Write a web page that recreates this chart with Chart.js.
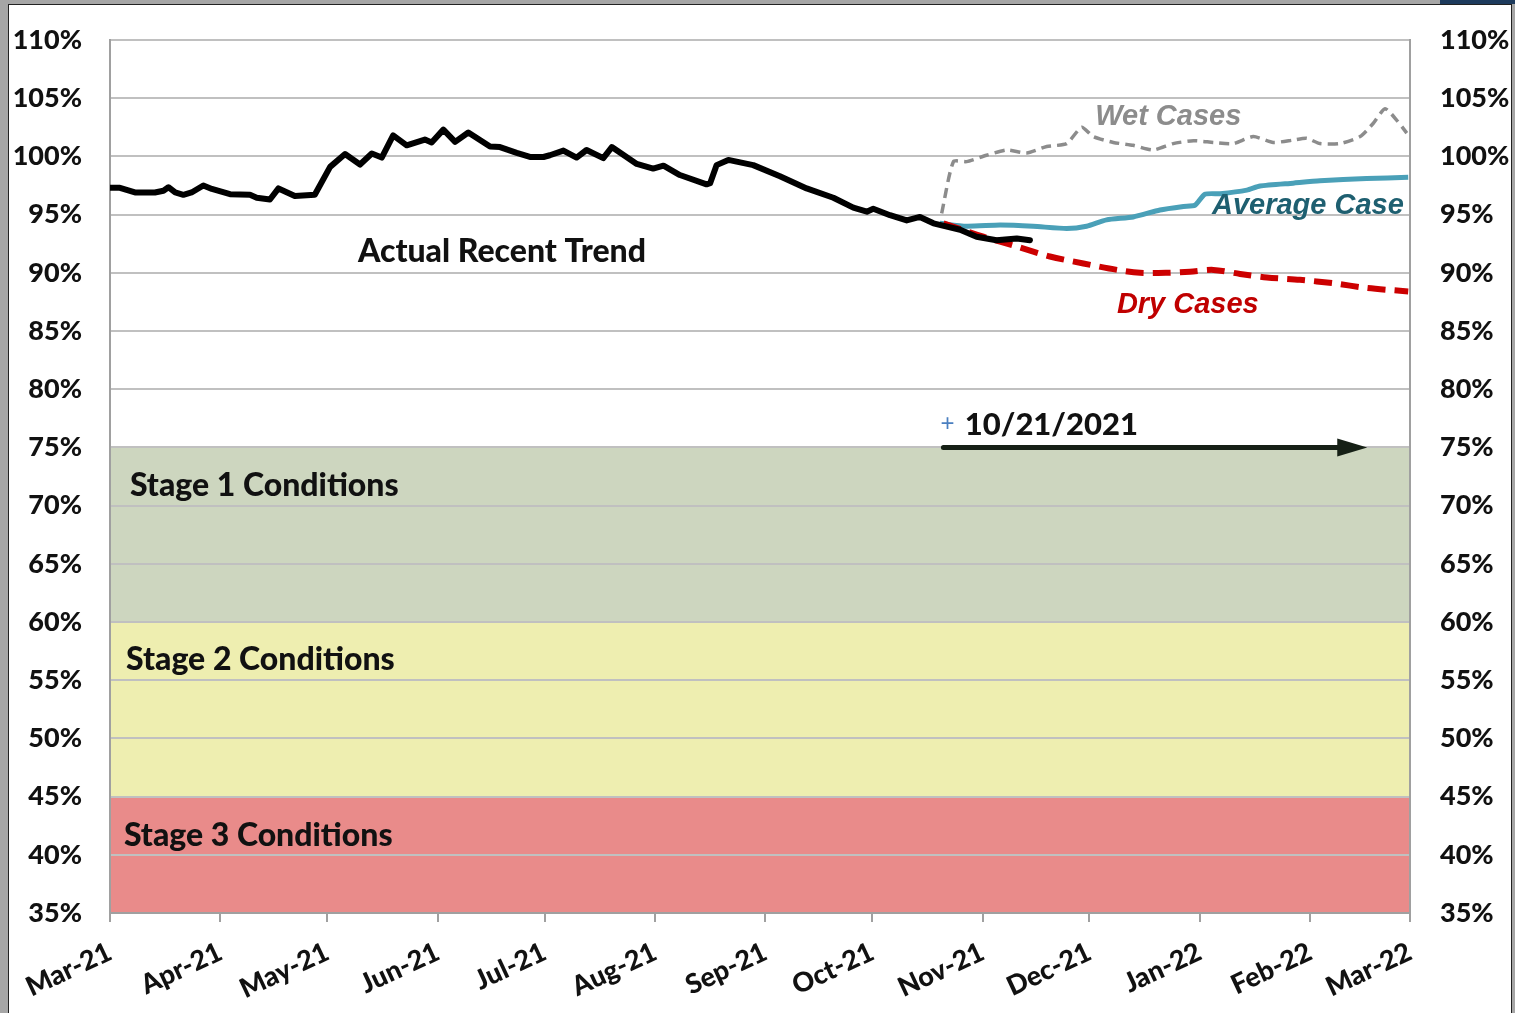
<!DOCTYPE html>
<html>
<head>
<meta charset="utf-8">
<script src="https://cdn.jsdelivr.net/npm/chart.js@4.4.0/dist/chart.umd.min.js"></script>
<style>
  html, body { margin: 0; padding: 0; background: #a6a6a6; overflow: hidden; }
  #frame { position: absolute; left: 8px; top: 4px; width: 1502px; height: 1030px; background: #fff; border: 1px solid #222; }
  #topStrip { position: absolute; left: 1440px; top: 0; width: 75px; height: 4px; background: #1d3a5c; }
  #wrap { position: absolute; left: 0; top: 0; width: 1515px; height: 1013px; }
</style>
</head>
<body>
<div id="frame"></div>
<div id="topStrip"></div>
<div id="wrap"><canvas id="chart" width="1515" height="1013"></canvas></div>
<script>
// x values are days since 1 Mar 2021
const monthDays = [0, 31, 61, 92, 122, 153, 184, 214, 245, 275, 306, 337, 365];
const monthLabels = ["Mar-21", "Apr-21", "May-21", "Jun-21", "Jul-21", "Aug-21", "Sep-21",
  "Oct-21", "Nov-21", "Dec-21", "Jan-22", "Feb-22", "Mar-22"];

// actual recent trend
const actualDays = [0, 2.8, 7, 12.6, 15, 16.4, 18.3, 20.6, 22.9, 26.2, 28.6, 33.7, 39.3, 41.2, 44.9,
  47.3, 51.9, 57.5, 61.8, 66, 70.2, 73.5, 76.3, 79.5, 83.3, 88.4, 90.3, 93.6, 96.9, 100.6, 106.7,
  109.5, 114.2, 117.9, 121.7, 123.5, 127.3, 131, 133.8, 138.5, 140.9, 147.9, 152.5, 155.4, 160,
  167.5, 168.5, 170.3, 173.6, 180.6, 188.1, 195.6, 203.1, 208.7, 212.5, 214.3, 219, 223.7, 227.4,
  231.2, 238.7, 243.3, 248.9, 254.6, 258.3];
const actualValues = [97.3, 97.3, 96.9, 96.9, 97.05, 97.35, 96.9, 96.7, 96.9, 97.5, 97.2, 96.75, 96.7,
  96.45, 96.3, 97.25, 96.6, 96.7, 99.1, 100.2, 99.3, 100.25, 99.9, 101.8, 100.95, 101.45, 101.2,
  102.3, 101.25, 102.05, 100.85, 100.8, 100.3, 99.95, 99.95, 100.1, 100.5, 99.9, 100.55, 99.85,
  100.8, 99.35, 98.95, 99.2, 98.4, 97.6, 97.7, 99.25, 99.7, 99.25, 98.3, 97.25, 96.45, 95.6, 95.25,
  95.5, 94.95, 94.5, 94.8, 94.25, 93.7, 93.1, 92.8, 92.95, 92.8];

// wet cases projection
const wetDays = [233.5, 236.8, 240.5, 246.1, 251.8, 257.4, 263, 268.6, 272.8, 276.1, 281.7, 287.3,
  292.9, 298.5, 304.2, 309.8, 315.4, 321, 326.6, 332.2, 336, 339.7, 345.3, 351, 354.7, 358, 361.3, 364.1];
const wetValues = [95.1, 99.55, 99.55, 100.1, 100.55, 100.3, 100.85, 101.1, 102.5, 101.7, 101.2,
  100.95, 100.55, 101.1, 101.35, 101.2, 101.1, 101.7, 101.2, 101.4, 101.55, 101.1, 101.1, 101.7,
  102.85, 104.1, 103.1, 102.0];

// average case projection
const avgDays = [233, 240.5, 249.9, 259.2, 268.6, 274.2, 279.8, 287.3, 294.8, 301.4, 304.6, 307.4,
  311.7, 319.2, 322.9, 332.2, 339.7, 352.8, 364.5];
const avgValues = [94.25, 94.0, 94.1, 94.0, 93.8, 94.0, 94.55, 94.8, 95.4, 95.7, 95.8, 96.75, 96.8,
  97.1, 97.45, 97.7, 97.9, 98.1, 98.2];

// dry cases projection
const dryDays = [234, 245.2, 254.6, 263.9, 273.3, 282.7, 289.2, 296.7, 303.2, 309.8, 317.3, 324.8,
  334.1, 343.5, 352.8, 364.5];
const dryValues = [94.25, 93.1, 92.25, 91.4, 90.8, 90.25, 90.0, 90.0, 90.1, 90.25, 89.9, 89.6, 89.4,
  89.1, 88.7, 88.4];

// drought stage bands
const bandNames = ["Stage 1 Conditions", "Stage 2 Conditions", "Stage 3 Conditions"];
const bandHighs = [75, 60, 45];
const bandLows = [60, 45, 35];
const bandColors = ["#cdd6bf", "#eeeeb0", "#e98b8a"];

// 10/21/2021 marker arrow
const arrowFrom = 234;
const arrowTo = 353;
const arrowLevel = 75;

function pts(xs, ys) {
  return xs.map((x, i) => ({ x: x, y: ys[i] }));
}

const BASE = "Lato, 'DejaVu Sans', sans-serif";
const ARIAL = "'Liberation Sans', Arial, sans-serif";

// text labels drawn on the plot (positions in data units)
const labels = [
  { text: "Actual Recent Trend", x: 69.6, y: 91.8, font: "900 32px " + BASE, color: "#111" },
  { text: bandNames[0], x: 5.6, y: 71.7, font: "900 32px " + BASE, color: "#111" },
  { text: bandNames[1], x: 4.5, y: 56.8, font: "900 32px " + BASE, color: "#111" },
  { text: bandNames[2], x: 3.9, y: 41.6, font: "900 32px " + BASE, color: "#111" },
  { text: "Wet Cases", x: 276.6, y: 103.4, font: "italic bold 29px " + ARIAL, color: "#8c8c8c" },
  { text: "Average Case", x: 309.4, y: 95.7, font: "italic bold 29px " + ARIAL, color: "#1e5f70" },
  { text: "Dry Cases", x: 282.7, y: 87.2, font: "italic bold 29px " + ARIAL, color: "#c00000" },
  { text: "10/21/2021", x: 240, y: 76.9, font: "900 31px " + BASE, color: "#111" },
  { text: "+", x: 233.2, y: 77.0, font: "24px " + ARIAL, color: "#4a7fc0" }
];

const bandsPlugin = {
  id: "bands",
  beforeDraw(chart) {
    const { ctx, chartArea, scales } = chart;
    ctx.save();
    bandHighs.forEach((hi, i) => {
      const top = scales.y.getPixelForValue(hi);
      const bottom = scales.y.getPixelForValue(bandLows[i]);
      ctx.fillStyle = bandColors[i];
      ctx.fillRect(chartArea.left, top, chartArea.right - chartArea.left, bottom - top);
    });
    ctx.restore();
  }
};

const notesPlugin = {
  id: "notes",
  afterDatasetsDraw(chart) {
    const { ctx, scales } = chart;
    ctx.save();
    // arrow
    const x0 = scales.x.getPixelForValue(arrowFrom);
    const x1 = scales.x.getPixelForValue(arrowTo);
    const yA = scales.y.getPixelForValue(arrowLevel);
    ctx.strokeStyle = "#162016";
    ctx.fillStyle = "#162016";
    ctx.lineWidth = 5;
    ctx.lineCap = "round";
    ctx.beginPath();
    ctx.moveTo(x0, yA);
    ctx.lineTo(x1 - 20, yA);
    ctx.stroke();
    ctx.beginPath();
    ctx.moveTo(x1, yA);
    ctx.lineTo(x1 - 30, yA - 9);
    ctx.lineTo(x1 - 30, yA + 9);
    ctx.closePath();
    ctx.fill();
    // text
    ctx.textAlign = "left";
    ctx.textBaseline = "middle";
    labels.forEach((l) => {
      ctx.font = l.font;
      ctx.fillStyle = l.color;
      ctx.fillText(l.text, scales.x.getPixelForValue(l.x), scales.y.getPixelForValue(l.y));
    });
    ctx.restore();
  }
};

// small lineHeight keeps the label padding from pushing the plot top down
const tickFont = { family: BASE, size: 27, weight: "900", lineHeight: 0.6 };

new Chart(document.getElementById("chart"), {
  type: "line",
  data: {
    datasets: [
      {
        label: "Actual Recent Trend",
        data: pts(actualDays, actualValues),
        borderColor: "#000",
        borderWidth: 6,
        pointRadius: 0,
        tension: 0,
        borderJoinStyle: "round",
        borderCapStyle: "round"
      },
      {
        label: "Dry Cases",
        data: pts(dryDays, dryValues),
        borderColor: "#cc0000",
        borderWidth: 6,
        borderDash: [18, 9],
        pointRadius: 0,
        tension: 0.3
      },
      {
        label: "Average Case",
        data: pts(avgDays, avgValues),
        borderColor: "#4aa0b8",
        borderWidth: 5,
        pointRadius: 0,
        tension: 0.2
      },
      {
        label: "Wet Cases",
        data: pts(wetDays, wetValues),
        borderColor: "#8c8c8c",
        borderWidth: 3.5,
        borderDash: [10, 6],
        pointRadius: 0,
        tension: 0.2
      }
    ]
  },
  options: {
    responsive: false,
    animation: false,
    events: [],
    layout: { padding: { top: 40, left: 0, right: 0, bottom: 0 } },
    plugins: { legend: { display: false }, tooltip: { enabled: false } },
    scales: {
      x: {
        type: "linear",
        min: 0,
        max: 365,
        afterBuildTicks(axis) {
          axis.ticks = monthDays.map((v) => ({ value: v }));
        },
        afterFit(axis) { axis.height = 100; },
        grid: { drawOnChartArea: false, drawTicks: true, tickLength: 9, color: "#a0a0a0", lineWidth: 2 },
        border: { display: true, color: "#a0a0a0", width: 2 },
        ticks: {
          autoSkip: false,
          minRotation: 25,
          maxRotation: 25,
          padding: 14,
          color: "#111",
          font: { family: BASE, size: 27, weight: "900" },
          callback: (v) => monthLabels[monthDays.indexOf(v)]
        }
      },
      y: {
        position: "left",
        min: 35,
        max: 110,
        afterFit(axis) { axis.width = 110; },
        grid: { color: "#c0c0c0", lineWidth: 2, drawTicks: false },
        border: { display: true, color: "#a0a0a0", width: 2 },
        ticks: { stepSize: 5, padding: 28, color: "#111", font: tickFont, callback: (v) => v + "%" }
      },
      y1: {
        position: "right",
        min: 35,
        max: 110,
        afterFit(axis) { axis.width = 105; },
        grid: { drawOnChartArea: false, drawTicks: false },
        border: { display: true, color: "#a0a0a0", width: 2 },
        ticks: { stepSize: 5, padding: 30, color: "#111", font: tickFont, callback: (v) => v + "%" }
      }
    }
  },
  plugins: [bandsPlugin, notesPlugin]
});
</script>
</body>
</html>
